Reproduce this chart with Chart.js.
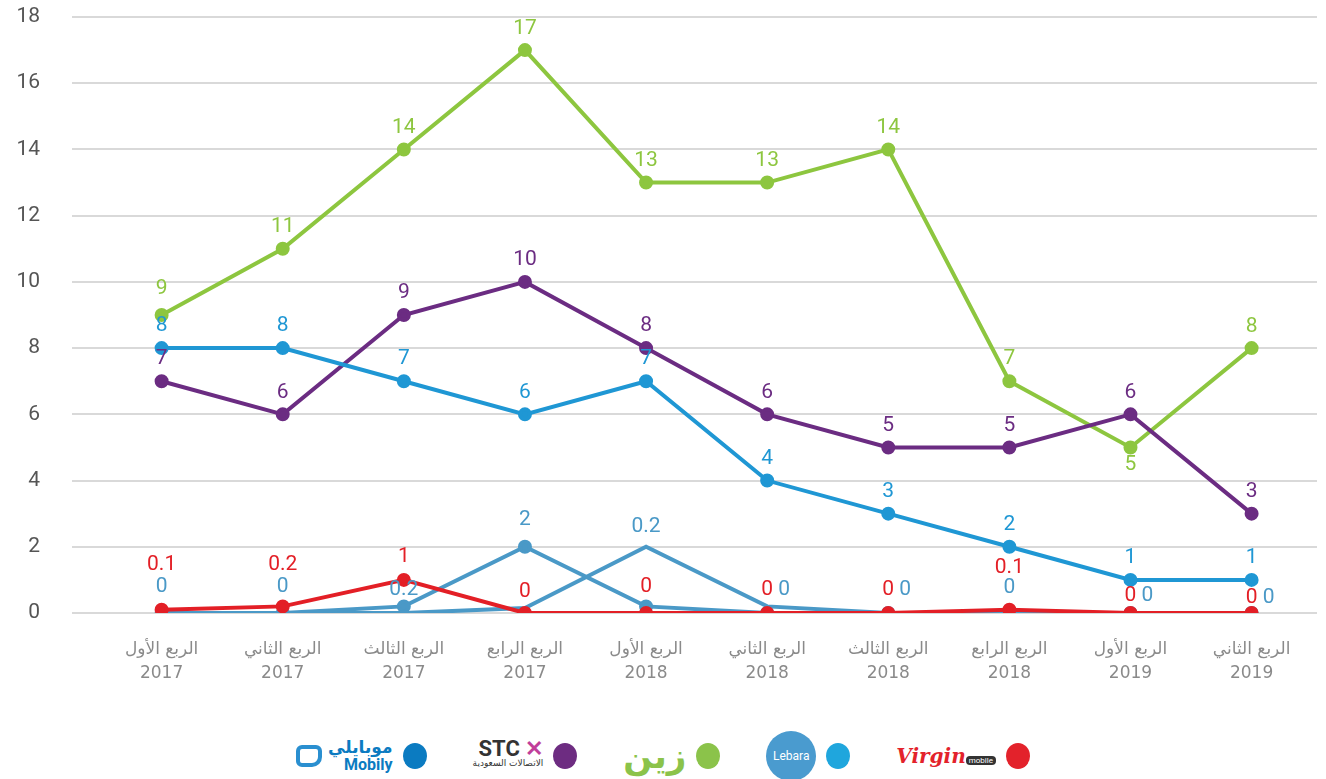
<!DOCTYPE html>
<html>
<head>
<meta charset="utf-8">
<script src="https://cdn.jsdelivr.net/npm/chart.js@4/dist/chart.umd.min.js"></script>
<style>
    body { margin: 0; background: #fff; font-family: Roboto, "DejaVu Sans", sans-serif; }
    #wrap { position: relative; width: 1326px; height: 779px; }
    #legend { position: absolute; top: 731px; left: 0; width: 1326px; height: 50px;
              display: flex; justify-content: center; align-items: center; gap: 46px; }
    .item { display: flex; align-items: center; }
    .dot { width: 24px; height: 26px; border-radius: 50%; margin-left: 10px; }
    .logo { font-family: "DejaVu Sans", sans-serif; }
</style>
</head>
<body>
<div id="wrap">
    <canvas id="chart" width="1326" height="700"></canvas>
    <div id="legend"></div>
</div>
<script>
// Quarters (x axis)
const quarters = [
    ['الربع الأول', '2017'], ['الربع الثاني', '2017'], ['الربع الثالث', '2017'], ['الربع الرابع', '2017'],
    ['الربع الأول', '2018'], ['الربع الثاني', '2018'], ['الربع الثالث', '2018'], ['الربع الرابع', '2018'],
    ['الربع الأول', '2019'], ['الربع الثاني', '2019']
];

// Series values
const zainValues   = [9, 11, 14, 17, 13, 13, 14, 7, 5, 8];
const stcValues    = [7, 6, 9, 10, 8, 6, 5, 5, 6, 3];
const mobilyValues = [8, 8, 7, 6, 7, 4, 3, 2, 1, 1];
const lebaraValues = [0, 0, 0.2, 2, 0.2, 0, 0, 0, 0, 0];
const lebaraShadow = [0, 0, 0, 0.15, 2, 0.2, 0, 0, 0, 0];
const virginValues = [0.1, 0.2, 1, 0, 0, 0, 0, 0.1, 0, 0];

const yTicks = [0, 2, 4, 6, 8, 10, 12, 14, 16, 18];

const colors = {
    zain: '#8dc63f',
    stc: '#6b2c82',
    mobily: '#1f97d4',
    lebara: '#4a99c7',
    virgin: '#e31f26'
};

const toPoints = arr => arr.map((v, i) => ({ x: i, y: v }));

function line(values, color, extra) {
    return Object.assign({
        data: toPoints(values),
        borderColor: color,
        backgroundColor: color,
        borderWidth: 4,
        pointRadius: 5,
        pointHoverRadius: 5,
        tension: 0,
        showLabels: true
    }, extra || {});
}

// label nudges (px): dy above the point, dx to the right
const datasets = [
    line(virginValues, colors.virgin, { labelDy: [45, 42, 23, 21, 26, 23, 23, 42, 17, 15] }),
    line(lebaraValues, colors.lebara, {
        labelDy: [26, 26, 17, 27, 80, 23, 23, 25, 17, 15],
        labelDx: [0, 0, 0, 0, 0, 17, 17, 0, 17, 17]
    }),
    line(lebaraShadow, colors.lebara, { pointRadius: 0, showLabels: false }),
    line(mobilyValues, colors.mobily),
    line(stcValues, colors.stc),
    line(zainValues, colors.zain, { labelDy: [26, 22, 22, 21, 22, 22, 22, 22, -17, 21] })
];

// Draw value labels over the points
const valueLabels = {
    id: 'valueLabels',
    afterDatasetsDraw(chart) {
        const ctx = chart.ctx;
        ctx.save();
        ctx.font = '21px Roboto, sans-serif';
        ctx.textAlign = 'center';
        ctx.textBaseline = 'middle';
        chart.data.datasets.forEach((ds, di) => {
            if(!ds.showLabels) return;
            const meta = chart.getDatasetMeta(di);
            meta.data.forEach((pt, i) => {
                const dy = ds.labelDy ? ds.labelDy[i] : 22;
                const dx = ds.labelDx ? ds.labelDx[i] : 0;
                ctx.fillStyle = ds.borderColor;
                ctx.fillText(String(ds.data[i].y), pt.x + dx, pt.y - dy);
            });
        });
        ctx.restore();
    }
};

new Chart(document.getElementById('chart'), {
    type: 'line',
    data: { datasets },
    plugins: [valueLabels],
    options: {
        responsive: false,
        animation: false,
        layout: { padding: { top: 17, right: 0, left: 0, bottom: 0 } },
        plugins: { legend: { display: false }, tooltip: { enabled: false } },
        scales: {
            x: {
                type: 'linear',
                min: -0.74,
                max: 9.54,
                grid: { display: false },
                border: { display: false },
                afterFit: scale => { scale.height = 87; scale.paddingLeft = 0; scale.paddingRight = 0; },
                afterBuildTicks: scale => {
                    scale.ticks = quarters.map((q, i) => ({ value: i }));
                },
                ticks: {
                    padding: 16,
                    color: '#8a8a8a',
                    font: { size: 17, family: '"DejaVu Sans", sans-serif', lineHeight: 1.45 },
                    maxRotation: 0,
                    autoSkip: false,
                    callback: v => quarters[v]
                }
            },
            y: {
                min: 0,
                max: 18,
                afterFit: scale => { scale.width = 72; scale.paddingTop = 0; scale.paddingBottom = 0; },
                afterBuildTicks: scale => {
                    scale.ticks = yTicks.map(v => ({ value: v }));
                },
                grid: { color: '#d9d9d9', lineWidth: 2, drawTicks: false },
                border: { display: false },
                ticks: {
                    padding: 32,
                    color: '#555',
                    font: { size: 21, family: 'Roboto, sans-serif' }
                }
            }
        }
    }
});

// Legend with operator names
const operators = [
    { color: '#0b7bc1', html: '<div style="display:flex;align-items:center"><div style="width:26px;height:22px;border:4px solid #2a8fd0;border-radius:6px 6px 10px 6px;margin-right:6px;box-sizing:border-box"></div><div class="logo" style="color:#0b7bc1;font-weight:bold;line-height:17px;text-align:right"><div style="font-size:17px">موبايلي</div><div style="font-size:16px;font-family:Roboto">Mobily</div></div></div>' },
    { color: '#6d2c81', html: '<div class="logo" style="color:#333;text-align:right;line-height:15px"><div style="font-size:22px;font-weight:bold;font-family:Roboto">STC <span style="color:#c13f9a">✕</span></div><div style="font-size:9px">الاتصالات السعودية</div></div>' },
    { color: '#8bc34a', html: '<div class="logo" style="color:#8bc34a;font-size:34px;font-weight:bold">زين</div>' },
    { color: '#1fa6dd', html: '<div style="width:50px;height:50px;border-radius:50%;background:#4a9bcf;color:#fff;font:12px Roboto;display:flex;align-items:center;justify-content:center">Lebara</div>' },
    { color: '#e3222b', html: '<div style="color:#e3222b;font:italic bold 20px \'DejaVu Serif\',serif;line-height:18px;text-align:center">Virgin<div style="font:8px Roboto;color:#fff;background:#333;border-radius:4px;display:inline-block;padding:0 3px">mobile</div></div>' }
];

const legendDiv = document.getElementById('legend');
operators.forEach(op => {
    const item = document.createElement('div');
    item.className = 'item';
    item.innerHTML = op.html + `<div class="dot" style="background:${op.color}"></div>`;
    legendDiv.appendChild(item);
});
</script>
</body>
</html>
